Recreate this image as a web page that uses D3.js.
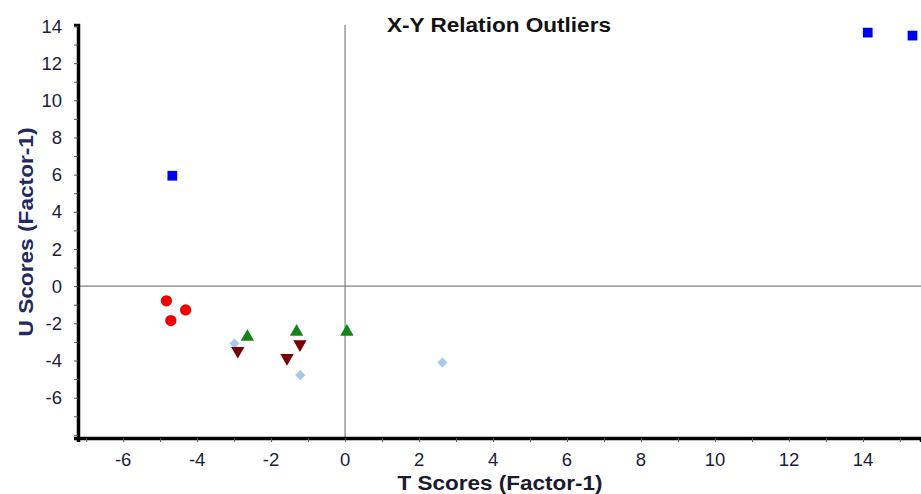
<!DOCTYPE html>
<html>
<head>
<meta charset="utf-8">
<script src="https://cdn.jsdelivr.net/npm/d3@7"></script>
<style>
    body { margin: 0; background: #fff; }
    text { font-family: "Liberation Sans", Arial, sans-serif; }
</style>
</head>
<body>
<div id="chart"></div>
<script>
// T scores (x) / U scores (y), one pair of arrays per group
const blueSquaresX = [-4.67, 14.13, 15.34];
const blueSquaresY = [5.94, 13.64, 13.48];
const redCirclesX = [-4.83, -4.31, -4.71];
const redCirclesY = [-0.79, -1.28, -1.85];
const greenUpX = [-2.64, -1.31, 0.05];
const greenUpY = [-2.73, -2.46, -2.46];
const darkRedDownX = [-2.90, -1.22, -1.57];
const darkRedDownY = [-3.48, -3.12, -3.86];
const diamondsX = [-2.99, -1.21, 2.63];
const diamondsY = [-3.09, -4.79, -4.11];

const xTickLabels = [-6, -4, -2, 0, 2, 4, 6, 8, 10, 12, 14];
const yTickLabels = [-6, -4, -2, 0, 2, 4, 6, 8, 10, 12, 14];

const width = 921;
const height = 494;
const margin = { top: 25, right: 0, bottom: 56, left: 78 };

const x = d3.scaleLinear()
    .domain([-7.22, 15.57])
    .range([margin.left, width - margin.right]);

const y = d3.scaleLinear()
    .domain([-8.17, 14.05])
    .range([height - margin.bottom, margin.top]);

const svg = d3.select("#chart")
    .append("svg")
    .attr("width", width)
    .attr("height", height);

// zero lines
svg.append("line")
    .attr("x1", margin.left).attr("x2", width)
    .attr("y1", y(0)).attr("y2", y(0))
    .attr("stroke", "#808080").attr("stroke-width", 1.2);
svg.append("line")
    .attr("x1", x(0)).attr("x2", x(0))
    .attr("y1", margin.top).attr("y2", height - margin.bottom)
    .attr("stroke", "#808080").attr("stroke-width", 1.2);

// X axis: minor ticks every unit, labels on even values
const xAxis = svg.append("g")
    .attr("transform", `translate(0,${height - margin.bottom})`)
    .call(d3.axisBottom(x).tickValues(d3.range(-7, 16)).tickSize(4).tickFormat(""));
xAxis.select(".domain").attr("stroke", "#000").attr("stroke-width", 3.5);
xAxis.selectAll(".tick line").attr("stroke", "#555");

svg.selectAll(".x-label")
    .data(xTickLabels)
    .enter().append("text")
    .attr("class", "x-label")
    .attr("x", d => x(d))
    .attr("y", 466)
    .attr("text-anchor", "middle")
    .attr("fill", "#1c1c3a")
    .style("font-size", "18.5px")
    .text(d => d);

// Y axis
const yAxis = svg.append("g")
    .attr("transform", `translate(${margin.left},0)`)
    .call(d3.axisLeft(y).tickValues(d3.range(-8, 15)).tickSize(4).tickFormat(""));
yAxis.select(".domain").attr("stroke", "#000").attr("stroke-width", 3.5);
yAxis.selectAll(".tick line").attr("stroke", "#555");

svg.selectAll(".y-label")
    .data(yTickLabels)
    .enter().append("text")
    .attr("class", "y-label")
    .attr("x", 62)
    .attr("y", d => y(d))
    .attr("dy", "0.36em")
    .attr("text-anchor", "end")
    .attr("fill", "#1c1c3a")
    .style("font-size", "18.5px")
    .text(d => d);

// titles
svg.append("text")
    .attr("x", 499)
    .attr("y", 32)
    .attr("text-anchor", "middle")
    .attr("textLength", 224)
    .attr("lengthAdjust", "spacingAndGlyphs")
    .attr("fill", "#111")
    .style("font-size", "19.5px")
    .style("font-weight", "bold")
    .text("X-Y Relation Outliers");

svg.append("text")
    .attr("x", 500)
    .attr("y", 490)
    .attr("text-anchor", "middle")
    .attr("textLength", 205)
    .attr("lengthAdjust", "spacingAndGlyphs")
    .attr("fill", "#1a1a2e")
    .style("font-size", "19.5px")
    .style("font-weight", "bold")
    .text("T Scores (Factor-1)");

svg.append("text")
    .attr("transform", "translate(33,232) rotate(-90)")
    .attr("text-anchor", "middle")
    .attr("textLength", 209)
    .attr("lengthAdjust", "spacingAndGlyphs")
    .attr("fill", "#1f2a60")
    .style("font-size", "19.5px")
    .style("font-weight", "bold")
    .text("U Scores (Factor-1)");

// points
const groups = [
    { xs: blueSquaresX, ys: blueSquaresY, shape: d3.symbolSquare, size: 95, rot: 0, color: "#0000f0" },
    { xs: redCirclesX, ys: redCirclesY, shape: d3.symbolCircle, size: 100, rot: 0, color: "#ee0000" },
    { xs: diamondsX, ys: diamondsY, shape: d3.symbolSquare, size: 52, rot: 45, color: "#a9c8ea" },
    { xs: greenUpX, ys: greenUpY, shape: d3.symbolTriangle, size: 78, rot: 0, color: "#17821a" },
    { xs: darkRedDownX, ys: darkRedDownY, shape: d3.symbolTriangle, size: 78, rot: 180, color: "#780000" }
];

groups.forEach(g => {
    svg.append("g")
        .selectAll("path")
        .data(g.xs.map((v, i) => [v, g.ys[i]]))
        .enter().append("path")
        .attr("d", d3.symbol().type(g.shape).size(g.size))
        .attr("transform", d => `translate(${x(d[0])},${y(d[1])}) rotate(${g.rot})`)
        .attr("fill", g.color);
});
</script>
</body>
</html>
